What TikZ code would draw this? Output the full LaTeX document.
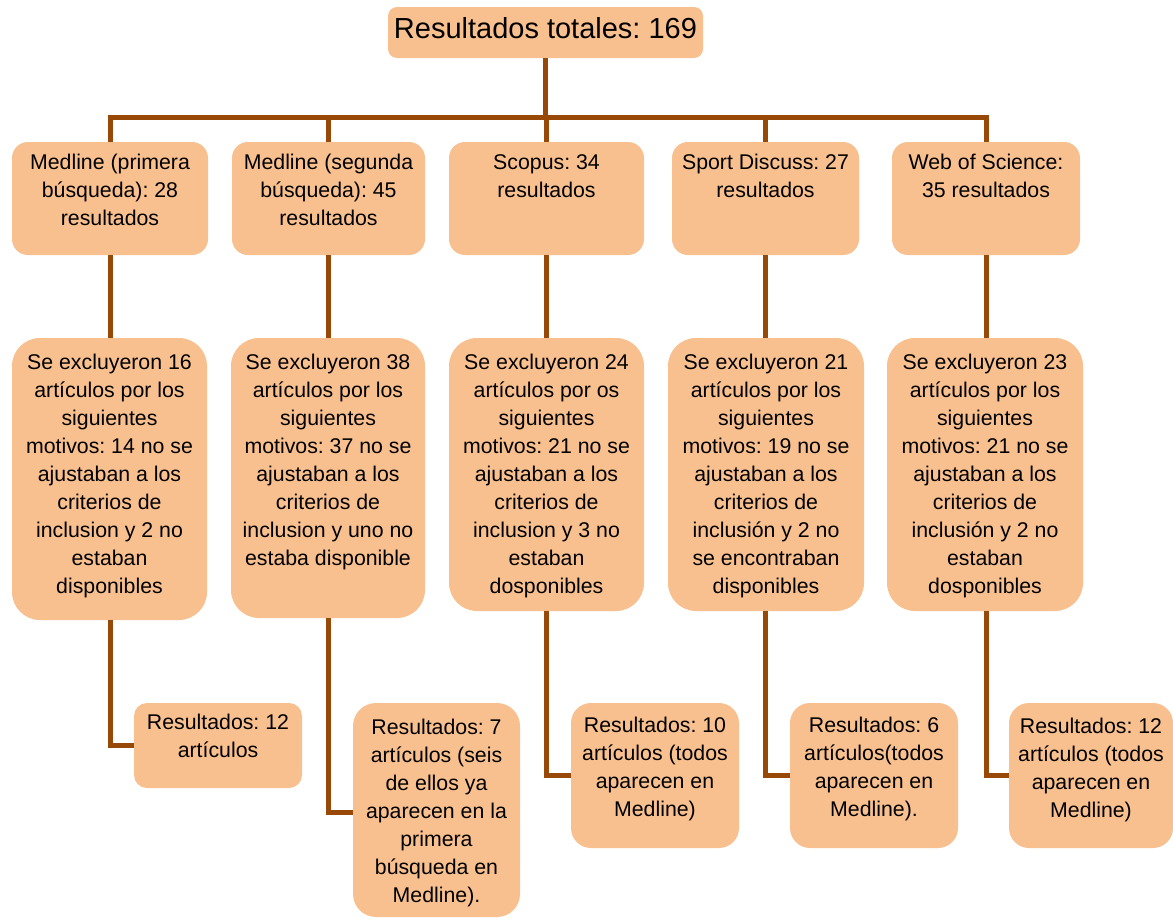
\documentclass[tikz,border=0pt]{standalone}
\usepackage{fontspec}
\setmainfont{Liberation Sans}
\frenchspacing
\definecolor{peach}{HTML}{F9C08F}
\definecolor{brownline}{HTML}{984807}
\newcommand{\boxtext}[4]{\parbox[t][#2][t]{#1}{\centering\frenchspacing\fontsize{21.3}{28}\selectfont\rule{0pt}{#3}#4\par}}
\tikzset{
  box/.style={fill=peach, draw=none, inner sep=0pt, outer sep=0pt, anchor=north west},
  conn/.style={draw=brownline, line width=5pt, line join=miter}
}
\begin{document}
\begin{tikzpicture}[x=1pt, y=-1pt]
\useasboundingbox (0,0) rectangle (1173,918);
% title
\node[box, rounded corners=9pt] (t) at (388,7) {\parbox[t][51pt][t]{315pt}{\centering\frenchspacing\fontsize{29}{34}\selectfont\rule{0pt}{31pt}Resultados totales: 169\par}};
% row 1
\node[box, rounded corners=16pt] (b1) at (12,142) {\boxtext{196pt}{113pt}{27pt}{Medline (primera\\ búsqueda): 28\\ resultados}};
\node[box, rounded corners=16pt] (b2) at (232,142) {\boxtext{193pt}{113pt}{27pt}{Medline (segunda\\ búsqueda): 45\\ resultados}};
\node[box, rounded corners=16pt] (b3) at (449,142) {\boxtext{195pt}{113pt}{27pt}{Scopus: 34\\ resultados}};
\node[box, rounded corners=16pt] (b4) at (672,142) {\boxtext{187pt}{113pt}{27pt}{Sport Discuss: 27\\ resultados}};
\node[box, rounded corners=16pt] (b5) at (892,142) {\boxtext{188pt}{113pt}{27pt}{Web of Science:\\ 35 resultados}};
% row 2
\node[box, rounded corners=28pt] (c1) at (12,338) {\boxtext{195pt}{282pt}{31pt}{Se excluyeron 16\\ artículos por los\\ siguientes\\ motivos: 14 no se\\ ajustaban a los\\ criterios de\\ inclusion y 2 no\\ estaban\\ disponibles}};
\node[box, rounded corners=28pt] (c2) at (231,338) {\boxtext{194pt}{280pt}{31pt}{Se excluyeron 38\\ artículos por los\\ siguientes\\ motivos: 37 no se\\ ajustaban a los\\ criterios de\\ inclusion y uno no\\ estaba disponible}};
\node[box, rounded corners=28pt] (c3) at (449,338) {\boxtext{195pt}{273pt}{31pt}{Se excluyeron 24\\ artículos por os\\ siguientes\\ motivos: 21 no se\\ ajustaban a los\\ criterios de\\ inclusion y 3 no\\ estaban\\ dosponibles}};
\node[box, rounded corners=28pt] (c4) at (668,338) {\boxtext{196pt}{273pt}{31pt}{Se excluyeron 21\\ artículos por los\\ siguientes\\ motivos: 19 no se\\ ajustaban a los\\ criterios de\\ inclusión y 2 no\\ se encontraban\\ disponibles}};
\node[box, rounded corners=28pt] (c5) at (887,338) {\boxtext{196pt}{273pt}{31pt}{Se excluyeron 23\\ artículos por los\\ siguientes\\ motivos: 21 no se\\ ajustaban a los\\ criterios de\\ inclusión y 2 no\\ estaban\\ dosponibles}};
% row 3
\node[box, rounded corners=13pt] (d1) at (134,703) {\boxtext{168pt}{85pt}{26pt}{Resultados: 12\\ artículos}};
\node[box, rounded corners=23pt] (d2) at (353,703) {\boxtext{167pt}{214pt}{31pt}{Resultados: 7\\ artículos (seis\\ de ellos ya\\ aparecen en la\\ primera\\ búsqueda en\\ Medline).}};
\node[box, rounded corners=20pt] (d3) at (571,703) {\boxtext{168pt}{145pt}{29pt}{Resultados: 10\\ artículos (todos\\ aparecen en\\ Medline)}};
\node[box, rounded corners=20pt] (d4) at (790,703) {\boxtext{168pt}{145pt}{29pt}{Resultados: 6\\ artículos(todos\\ aparecen en\\ Medline).}};
\node[box, rounded corners=20pt] (d5) at (1009,703) {\boxtext{164pt}{145pt}{30pt}{Resultados: 12\\ artículos (todos\\ aparecen en\\ Medline)}};
% connectors
\coordinate (bus) at (546,117);
\draw[conn] (t.south) -- (t.south |- bus);
\draw[conn] (b1.north) -- (b1.north |- bus) -- (b5.north |- bus) -- (b5.north);
\foreach \n in {b2,b3,b4} \draw[conn] (\n.north) -- (\n.north |- bus);
\foreach \i in {1,...,5} \draw[conn] (b\i.south) -- (b\i.south |- c\i.north);
\foreach \i in {1,3,4,5} \draw[conn] (b\i.south |- c\i.south) -- (b\i.south |- d\i.west) -- (d\i.west);
\draw[conn] (b2.south |- c2.south) -- ([yshift=-2pt]b2.south |- d2.west) -- ([yshift=-2pt]d2.west);
\end{tikzpicture}
\end{document}
